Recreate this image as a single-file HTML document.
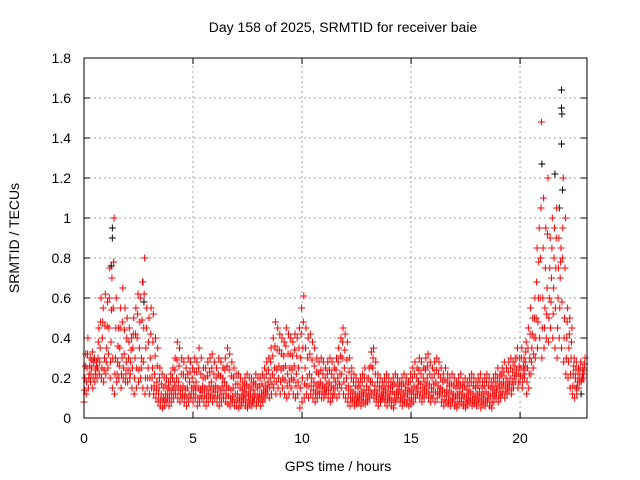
<!DOCTYPE html>
<html><head><meta charset="utf-8"><style>
html,body{margin:0;padding:0;background:#fff;}
svg{display:block;font-family:"Liberation Sans",sans-serif;}
</style></head><body>
<svg id="chart" width="640" height="480">
<rect x="0" y="0" width="640" height="480" fill="#fff"/>
<text x="343" y="32" text-anchor="middle" font-size="14">Day 158 of 2025, SRMTID for receiver baie</text>
<text x="338" y="471" text-anchor="middle" font-size="14">GPS time / hours</text>
<text transform="translate(19,238) rotate(-90)" text-anchor="middle" font-size="14">SRMTID / TECUs</text>
<g id="grid"></g>
<g id="ticks"></g>
<g id="marks"></g>
<rect x="84" y="58" width="503" height="360" fill="none" stroke="#000" stroke-width="1"/>
</svg>
<script>
const xTicks=[0,5,10,15,20];
const yTicks=[0,0.2,0.4,0.6,0.8,1,1.2,1.4,1.6,1.8];
const yTickLabels=["0","0.2","0.4","0.6","0.8","1","1.2","1.4","1.6","1.8"];
const seriesLo=[0.08,0.12,0.15,0.18,0.15,0.18,0.20,0.22,0.20,0.18,0.22,0.25,0.20,0.15,0.12,0.18,0.20,0.15,0.20,0.18,0.18,0.20,0.15,0.12,0.15,0.18,0.20,0.15,0.12,0.15,0.12,0.15,0.12,0.10,0.08,0.06,0.05,0.06,0.08,0.06,0.08,0.10,0.12,0.10,0.08,0.10,0.08,0.06,0.08,0.10,0.08,0.10,0.06,0.08,0.10,0.08,0.06,0.08,0.10,0.08,0.10,0.08,0.06,0.08,0.10,0.08,0.07,0.06,0.08,0.06,0.06,0.05,0.06,0.08,0.06,0.05,0.07,0.06,0.08,0.06,0.08,0.06,0.08,0.10,0.12,0.10,0.12,0.15,0.12,0.15,0.12,0.15,0.12,0.10,0.12,0.15,0.12,0.10,0.12,0.05,0.08,0.10,0.12,0.10,0.12,0.10,0.08,0.10,0.12,0.10,0.10,0.12,0.10,0.08,0.10,0.12,0.10,0.12,0.15,0.12,0.10,0.08,0.06,0.08,0.06,0.07,0.08,0.06,0.08,0.07,0.08,0.10,0.12,0.10,0.08,0.06,0.08,0.10,0.08,0.06,0.08,0.06,0.05,0.08,0.10,0.08,0.06,0.08,0.07,0.06,0.07,0.08,0.10,0.12,0.10,0.08,0.10,0.12,0.10,0.08,0.10,0.08,0.10,0.12,0.08,0.06,0.08,0.07,0.06,0.08,0.06,0.05,0.07,0.08,0.06,0.05,0.07,0.08,0.06,0.07,0.06,0.08,0.05,0.07,0.06,0.08,0.06,0.05,0.08,0.10,0.08,0.10,0.12,0.10,0.12,0.14,0.12,0.15,0.18,0.15,0.18,0.15,0.20,0.12,0.15,0.22,0.25,0.30,0.35,0.40,0.30,0.35,0.40,0.38,0.45,0.40,0.35,0.30,0.40,0.35,0.28,0.22,0.20,0.15,0.12,0.10,0.12,0.15,0.18,0.20];
const seriesQ1=[0.14,0.18,0.20,0.22,0.20,0.22,0.25,0.28,0.25,0.24,0.28,0.32,0.28,0.30,0.22,0.22,0.26,0.22,0.25,0.22,0.24,0.22,0.25,0.20,0.25,0.24,0.25,0.28,0.20,0.20,0.20,0.20,0.16,0.14,0.12,0.09,0.08,0.09,0.10,0.10,0.12,0.14,0.16,0.14,0.12,0.12,0.11,0.10,0.12,0.12,0.12,0.14,0.10,0.11,0.13,0.11,0.10,0.12,0.14,0.11,0.13,0.11,0.10,0.12,0.14,0.12,0.11,0.10,0.11,0.09,0.09,0.08,0.08,0.10,0.09,0.08,0.09,0.08,0.10,0.08,0.10,0.09,0.11,0.13,0.15,0.15,0.17,0.20,0.18,0.20,0.18,0.20,0.19,0.16,0.18,0.20,0.19,0.16,0.18,0.15,0.20,0.17,0.16,0.16,0.16,0.14,0.12,0.13,0.15,0.13,0.12,0.14,0.14,0.12,0.12,0.15,0.15,0.17,0.22,0.18,0.15,0.12,0.10,0.10,0.09,0.09,0.10,0.09,0.11,0.09,0.11,0.14,0.18,0.13,0.11,0.09,0.09,0.11,0.11,0.09,0.10,0.09,0.08,0.10,0.12,0.10,0.09,0.11,0.09,0.09,0.10,0.12,0.12,0.15,0.13,0.11,0.14,0.16,0.13,0.11,0.13,0.13,0.13,0.13,0.11,0.09,0.11,0.09,0.09,0.10,0.08,0.08,0.10,0.10,0.08,0.07,0.09,0.10,0.09,0.09,0.09,0.10,0.08,0.09,0.09,0.10,0.08,0.08,0.11,0.13,0.11,0.13,0.15,0.13,0.15,0.17,0.15,0.18,0.21,0.18,0.21,0.18,0.24,0.18,0.22,0.28,0.32,0.40,0.48,0.60,0.45,0.45,0.52,0.50,0.58,0.52,0.55,0.45,0.55,0.58,0.40,0.30,0.28,0.22,0.16,0.15,0.15,0.18,0.19,0.22];
const seriesMid=[0.20,0.25,0.22,0.25,0.28,0.24,0.30,0.35,0.40,0.30,0.35,0.45,0.38,0.55,0.30,0.28,0.35,0.30,0.32,0.28,0.30,0.28,0.35,0.30,0.40,0.35,0.30,0.45,0.35,0.25,0.30,0.25,0.22,0.18,0.15,0.12,0.10,0.12,0.12,0.14,0.15,0.18,0.20,0.18,0.15,0.16,0.14,0.15,0.18,0.15,0.16,0.18,0.15,0.14,0.16,0.15,0.14,0.16,0.18,0.15,0.16,0.15,0.14,0.16,0.18,0.16,0.15,0.14,0.15,0.12,0.12,0.10,0.11,0.12,0.13,0.11,0.12,0.10,0.12,0.11,0.12,0.12,0.14,0.16,0.18,0.20,0.22,0.25,0.24,0.26,0.24,0.25,0.26,0.22,0.25,0.24,0.26,0.22,0.25,0.30,0.35,0.25,0.20,0.22,0.20,0.18,0.16,0.17,0.18,0.16,0.15,0.17,0.18,0.16,0.15,0.18,0.20,0.22,0.30,0.25,0.20,0.16,0.14,0.13,0.12,0.11,0.12,0.13,0.14,0.12,0.14,0.18,0.25,0.16,0.14,0.12,0.11,0.13,0.14,0.12,0.12,0.13,0.12,0.13,0.14,0.13,0.12,0.14,0.12,0.13,0.14,0.16,0.15,0.18,0.17,0.15,0.18,0.20,0.17,0.15,0.17,0.18,0.16,0.15,0.14,0.13,0.14,0.12,0.13,0.12,0.11,0.12,0.13,0.12,0.11,0.10,0.12,0.13,0.12,0.11,0.12,0.13,0.11,0.12,0.13,0.12,0.11,0.12,0.14,0.16,0.15,0.17,0.18,0.16,0.18,0.20,0.18,0.21,0.24,0.22,0.25,0.22,0.28,0.25,0.30,0.35,0.40,0.50,0.60,0.80,0.60,0.55,0.65,0.60,0.70,0.65,0.75,0.60,0.70,0.80,0.50,0.40,0.35,0.30,0.22,0.20,0.18,0.22,0.20,0.24];
const seriesQ3=[0.26,0.32,0.26,0.29,0.29,0.26,0.38,0.48,0.48,0.46,0.46,0.60,0.54,0.78,0.45,0.36,0.45,0.48,0.44,0.40,0.38,0.34,0.42,0.42,0.52,0.48,0.49,0.62,0.45,0.38,0.42,0.38,0.31,0.26,0.20,0.17,0.15,0.16,0.15,0.18,0.20,0.24,0.29,0.26,0.22,0.22,0.20,0.22,0.23,0.20,0.23,0.23,0.25,0.22,0.20,0.20,0.21,0.23,0.25,0.22,0.20,0.22,0.21,0.20,0.24,0.26,0.24,0.21,0.20,0.17,0.17,0.15,0.14,0.16,0.17,0.15,0.16,0.14,0.17,0.15,0.16,0.17,0.20,0.22,0.24,0.28,0.31,0.36,0.34,0.34,0.32,0.31,0.36,0.32,0.32,0.31,0.34,0.31,0.35,0.42,0.48,0.35,0.30,0.32,0.29,0.26,0.23,0.22,0.24,0.22,0.20,0.22,0.24,0.22,0.20,0.24,0.28,0.31,0.38,0.34,0.29,0.23,0.20,0.18,0.16,0.15,0.16,0.18,0.20,0.16,0.20,0.26,0.30,0.22,0.18,0.16,0.15,0.16,0.18,0.16,0.15,0.16,0.17,0.16,0.16,0.16,0.17,0.17,0.15,0.18,0.20,0.22,0.20,0.24,0.22,0.20,0.24,0.26,0.22,0.20,0.22,0.24,0.22,0.20,0.18,0.19,0.18,0.16,0.17,0.16,0.15,0.16,0.17,0.15,0.16,0.14,0.16,0.18,0.16,0.15,0.16,0.18,0.15,0.16,0.18,0.16,0.15,0.16,0.18,0.20,0.18,0.21,0.23,0.20,0.23,0.25,0.23,0.26,0.30,0.26,0.30,0.26,0.33,0.35,0.42,0.42,0.50,0.68,0.78,1.05,0.85,0.75,0.92,0.75,0.85,0.80,0.90,0.75,0.78,0.95,0.75,0.48,0.42,0.38,0.26,0.24,0.22,0.25,0.22,0.27];
const seriesHi=[0.32,0.40,0.30,0.33,0.30,0.28,0.45,0.60,0.55,0.62,0.58,0.75,0.70,1.00,0.60,0.45,0.55,0.65,0.55,0.50,0.45,0.40,0.50,0.55,0.62,0.60,0.68,0.80,0.55,0.50,0.55,0.52,0.40,0.35,0.25,0.22,0.20,0.20,0.18,0.22,0.25,0.30,0.38,0.35,0.30,0.28,0.25,0.30,0.28,0.25,0.30,0.28,0.35,0.30,0.25,0.25,0.28,0.30,0.32,0.28,0.25,0.30,0.28,0.25,0.30,0.35,0.32,0.28,0.25,0.22,0.22,0.20,0.18,0.20,0.22,0.20,0.20,0.18,0.22,0.20,0.20,0.22,0.25,0.28,0.30,0.35,0.40,0.48,0.45,0.42,0.40,0.38,0.45,0.42,0.40,0.38,0.42,0.40,0.45,0.55,0.61,0.45,0.40,0.42,0.38,0.35,0.30,0.28,0.30,0.28,0.25,0.28,0.30,0.28,0.25,0.30,0.35,0.40,0.45,0.42,0.38,0.30,0.25,0.22,0.20,0.18,0.20,0.22,0.25,0.20,0.25,0.33,0.35,0.28,0.22,0.20,0.18,0.20,0.22,0.20,0.18,0.20,0.22,0.20,0.18,0.20,0.22,0.20,0.18,0.22,0.25,0.28,0.25,0.30,0.28,0.25,0.30,0.32,0.28,0.25,0.28,0.30,0.28,0.25,0.22,0.25,0.22,0.20,0.22,0.20,0.18,0.20,0.22,0.18,0.20,0.18,0.20,0.22,0.20,0.18,0.20,0.22,0.18,0.20,0.22,0.20,0.18,0.20,0.22,0.25,0.22,0.25,0.28,0.25,0.28,0.30,0.28,0.30,0.35,0.30,0.35,0.30,0.38,0.45,0.55,0.50,0.60,0.85,0.95,1.48,1.10,0.95,1.20,0.90,1.00,0.95,1.05,0.90,0.85,1.20,1.00,0.55,0.50,0.45,0.30,0.28,0.25,0.28,0.25,0.30];
const blackHours=[1.3,1.3,1.25,2.7,2.75,21.0,21.6,21.8,21.9,21.9,21.92,21.9,21.95,22.6,22.8];
const blackValues=[0.95,0.90,0.76,0.68,0.58,1.27,1.22,1.05,1.64,1.55,1.52,1.37,1.14,0.15,0.12];
const X0=84,X1=587,Y0=418,Y1=58,XMAX=23.07,YMAX=1.8;
const sx=v=>X0+v/XMAX*(X1-X0);
const sy=v=>Y0-v/YMAX*(Y0-Y1);
const NS="http://www.w3.org/2000/svg";
const grid=document.getElementById('grid'),ticks=document.getElementById('ticks'),marks=document.getElementById('marks');
function mk(tag,attrs,parent){const e=document.createElementNS(NS,tag);for(const k in attrs)e.setAttribute(k,attrs[k]);parent.appendChild(e);return e;}
xTicks.forEach(t=>{const x=sx(t);
 if(t>0){const g=mk('line',{x1:x,y1:Y0,x2:x,y2:Y1,stroke:'#a0a0a0','stroke-dasharray':'2,3'},grid);
 
 }
 mk('line',{x1:x,y1:Y0,x2:x,y2:Y0-6,stroke:'#000'},ticks);
 mk('line',{x1:x,y1:Y1,x2:x,y2:Y1+6,stroke:'#000'},ticks);
 const l=mk('text',{x:x,y:443,'text-anchor':'middle','font-size':'14'},ticks);l.textContent=t;
 
 });
yTicks.forEach((t,i)=>{const y=sy(t);
 if(t>0&&t<1.8){const g=mk('line',{x1:X0,y1:y,x2:X1,y2:y,stroke:'#a0a0a0','stroke-dasharray':'2,3'},grid);
 
 }
 mk('line',{x1:X0,y1:y,x2:X0+6,y2:y,stroke:'#000'},ticks);
 mk('line',{x1:X1,y1:y,x2:X1-6,y2:y,stroke:'#000'},ticks);
 const l=mk('text',{x:71,y:y+5,'text-anchor':'end','font-size':'14'},ticks);l.textContent=yTickLabels[i];
 
 });
function plus(h,v,color){const x=sx(h),y=sy(v);
 const p=mk('path',{d:`M${x-3.5},${y}h7M${x},${y-3.5}v7`,stroke:color,'stroke-width':1,fill:'none'},marks);
 
 }
blackHours.forEach((h,i)=>plus(h,blackValues[i],'#000'));
[[seriesLo,0],[seriesQ1,0.02],[seriesMid,0.04],[seriesQ3,0.06],[seriesHi,0.08]].forEach(([s,off])=>s.forEach((v,i)=>plus(i/10+off,v,'#ff0000')));
</script>
</body></html>
